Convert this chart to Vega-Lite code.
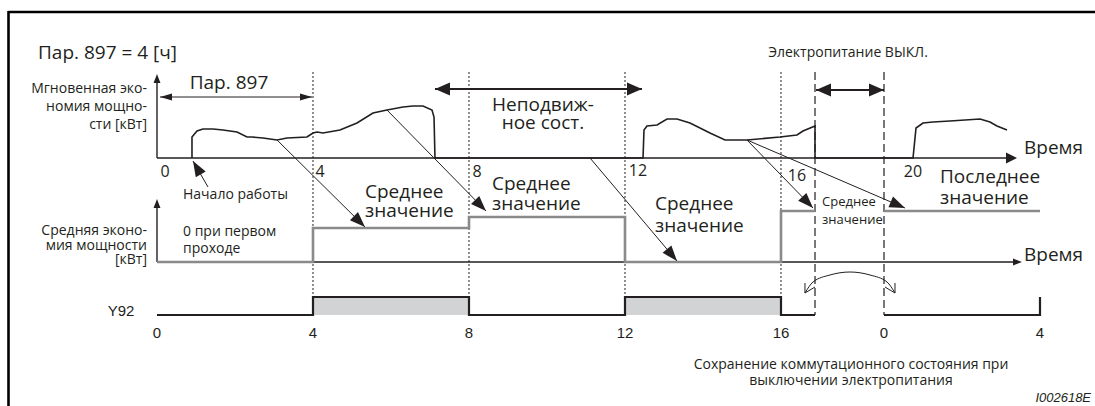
{
"$schema":"https://vega.github.io/schema/vega-lite/v6.json",
"width":1095,"height":406,"autosize":{"type":"none"},"padding":0,"background":"white",
"config":{"view":{"stroke":null}},
"datasets":{
"fills":[{"t":4,"t2":8,"v":91,"v2":109},{"t":12,"t2":16,"v":91,"v2":109}],
"segs":[
{"k":"frame","t":-3.8077,"v":394,"t2":24.06,"v2":394},
{"k":"frame","t":-3.8077,"v":395,"t2":-3.8077,"v2":0},
{"k":"axis","t":0,"v":248,"t2":21.85,"v2":248},
{"k":"axis","t":0,"v":248,"t2":0,"v2":326},
{"k":"axis","t":0,"v":144,"t2":21.97,"v2":144},
{"k":"axis","t":0,"v":144,"t2":0,"v2":201},
{"k":"thin","t":1.308,"v":219,"t2":0.923,"v2":245},
{"k":"thin","t":3.077,"v":266,"t2":5.333,"v2":179},
{"k":"thin","t":5.897,"v":296,"t2":8.436,"v2":195},
{"k":"thin","t":11.103,"v":248,"t2":13.333,"v2":145},
{"k":"thin","t":15.128,"v":266,"t2":16.821,"v2":198},
{"k":"thin","t":15.128,"v":266,"t2":19.179,"v2":198},
{"k":"thin","t":0.077,"v":309,"t2":3.974,"v2":309},
{"k":"thin","t":16.615,"v":113,"t2":16.615,"v2":123},
{"k":"thin","t":16.615,"v":113,"t2":16.872,"v2":119},
{"k":"thin","t":18.923,"v":113,"t2":18.923,"v2":123},
{"k":"thin","t":18.923,"v":113,"t2":18.667,"v2":119},
{"k":"bold","t":7.128,"v":317,"t2":12.436,"v2":317},
{"k":"bold","t":16.897,"v":316,"t2":18.641,"v2":316},
{"k":"dot","t":4,"v":334,"t2":4,"v2":109},
{"k":"dot","t":8,"v":334,"t2":8,"v2":109},
{"k":"dot","t":12,"v":334,"t2":12,"v2":109},
{"k":"dot","t":16,"v":334,"t2":16,"v2":109},
{"k":"dash","t":16.872,"v":334,"t2":16.872,"v2":91},
{"k":"dash","t":18.641,"v":334,"t2":18.641,"v2":91}
],
"lines":[
{"id":"inst","i":1,"t":0.897,"v":248},{"id":"inst","i":2,"t":0.897,"v":269},{"id":"inst","i":3,"t":1.026,"v":275},{"id":"inst","i":4,"t":1.179,"v":277},{"id":"inst","i":5,"t":1.436,"v":277},{"id":"inst","i":6,"t":1.692,"v":276},{"id":"inst","i":7,"t":2.051,"v":274},{"id":"inst","i":8,"t":2.308,"v":269},{"id":"inst","i":9,"t":2.436,"v":269},{"id":"inst","i":10,"t":2.718,"v":268},{"id":"inst","i":11,"t":3.077,"v":266},{"id":"inst","i":12,"t":3.333,"v":268},{"id":"inst","i":13,"t":3.846,"v":269},{"id":"inst","i":14,"t":4.0,"v":273},{"id":"inst","i":15,"t":4.103,"v":274},{"id":"inst","i":16,"t":4.256,"v":273},{"id":"inst","i":17,"t":4.692,"v":276},{"id":"inst","i":18,"t":5.128,"v":283},{"id":"inst","i":19,"t":5.538,"v":293},{"id":"inst","i":20,"t":5.897,"v":296},{"id":"inst","i":21,"t":6.308,"v":299},{"id":"inst","i":22,"t":6.564,"v":300},{"id":"inst","i":23,"t":6.821,"v":300},{"id":"inst","i":24,"t":7.051,"v":296},{"id":"inst","i":25,"t":7.103,"v":289},{"id":"inst","i":26,"t":7.128,"v":248},{"id":"inst","i":27,"t":12.462,"v":248},{"id":"inst","i":28,"t":12.487,"v":276},{"id":"inst","i":29,"t":12.564,"v":280},{"id":"inst","i":30,"t":12.821,"v":281},{"id":"inst","i":31,"t":13.077,"v":287},{"id":"inst","i":32,"t":13.333,"v":287},{"id":"inst","i":33,"t":13.667,"v":283},{"id":"inst","i":34,"t":14.179,"v":273},{"id":"inst","i":35,"t":14.564,"v":266},{"id":"inst","i":36,"t":15.128,"v":266},{"id":"inst","i":37,"t":15.974,"v":269},{"id":"inst","i":38,"t":16.41,"v":271},{"id":"inst","i":39,"t":16.564,"v":275},{"id":"inst","i":40,"t":16.872,"v":280},{"id":"inst","i":41,"t":16.872,"v":248},{"id":"inst","i":42,"t":19.385,"v":248},{"id":"inst","i":43,"t":19.462,"v":278},{"id":"inst","i":44,"t":19.641,"v":283},{"id":"inst","i":45,"t":19.897,"v":284},{"id":"inst","i":46,"t":20.333,"v":285},{"id":"inst","i":47,"t":21.103,"v":287},{"id":"inst","i":48,"t":21.359,"v":284},{"id":"inst","i":49,"t":21.538,"v":280},{"id":"inst","i":50,"t":21.667,"v":278},{"id":"inst","i":51,"t":21.795,"v":276},
{"id":"avg1","i":1,"t":0,"v":144},{"id":"avg1","i":2,"t":4,"v":144},{"id":"avg1","i":3,"t":4,"v":178},{"id":"avg1","i":4,"t":8,"v":178},{"id":"avg1","i":5,"t":8,"v":189},{"id":"avg1","i":6,"t":12,"v":189},{"id":"avg1","i":7,"t":12,"v":144},{"id":"avg1","i":8,"t":16,"v":144},{"id":"avg1","i":9,"t":16,"v":195},{"id":"avg1","i":10,"t":16.872,"v":195},
{"id":"avg2","i":1,"t":18.641,"v":195},{"id":"avg2","i":2,"t":22.641,"v":195},
{"id":"y1","i":1,"t":0,"v":91},{"id":"y1","i":2,"t":4,"v":91},{"id":"y1","i":3,"t":4,"v":109},{"id":"y1","i":4,"t":8,"v":109},{"id":"y1","i":5,"t":8,"v":91},{"id":"y1","i":6,"t":12,"v":91},{"id":"y1","i":7,"t":12,"v":109},{"id":"y1","i":8,"t":16,"v":109},{"id":"y1","i":9,"t":16,"v":91},{"id":"y1","i":10,"t":16.872,"v":91},
{"id":"y2","i":1,"t":18.641,"v":91},{"id":"y2","i":2,"t":22.641,"v":91},{"id":"y2","i":3,"t":22.641,"v":109},
{"id":"arc","i":1,"t":16.615,"v":113},{"id":"arc","i":2,"t":16.821,"v":124},{"id":"arc","i":3,"t":17.256,"v":131},{"id":"arc","i":4,"t":17.769,"v":134},{"id":"arc","i":5,"t":18.282,"v":131},{"id":"arc","i":6,"t":18.718,"v":124},{"id":"arc","i":7,"t":18.923,"v":113}
],
"heads":[
{"k":"ax","t":0,"v":332,"a":0},{"k":"ax","t":0,"v":207,"a":0},{"k":"ax","t":22.18,"v":144,"a":90},
{"k":"axb","t":22.051,"v":248,"a":90},
{"k":"small","t":0.077,"v":309,"a":270},{"k":"small","t":3.974,"v":309,"a":90},
{"k":"bold","t":7.128,"v":317,"a":270},{"k":"bold","t":12.436,"v":317,"a":90},{"k":"bold","t":16.897,"v":316,"a":270},{"k":"bold","t":18.641,"v":316,"a":90}
],
"dh":[
{"t":0.923,"v":245,"a":330},{"t":5.333,"v":179,"a":134.7},{"t":8.436,"v":195,"a":135.6},{"t":13.333,"v":145,"a":139.8},{"t":16.821,"v":198,"a":135.9},{"t":19.179,"v":198,"a":113.3}
],
"txt":[
{"g":"ttl","t":-3.0513,"v":353,"s":"Пар. 897 = 4 [ч]"},
{"g":"p897","t":1.846,"v":323,"s":"Пар. 897"},
{"g":"lbl","t":-0.2564,"v":317,"s":"Мгновенная эко-"},
{"g":"lbl","t":-0.2564,"v":299,"s":"номия мощно-"},
{"g":"lbl","t":-0.2564,"v":281,"s":"сти [кВт]"},
{"g":"lbl","t":-0.2564,"v":175,"s":"Средняя эконо-"},
{"g":"lbl","t":-0.2564,"v":160.5,"s":"мия мощности"},
{"g":"lbl","t":-0.2564,"v":146,"s":"[кВт]"},
{"g":"bigc","t":9.897,"v":301,"s":"Неподвиж-"},
{"g":"bigc","t":9.897,"v":283,"s":"ное сост."},
{"g":"bigl","t":5.333,"v":214,"s":"Среднее"},
{"g":"bigl","t":5.333,"v":195,"s":"значение"},
{"g":"bigl","t":8.59,"v":222,"s":"Среднее"},
{"g":"bigl","t":8.59,"v":202,"s":"значение"},
{"g":"bigl","t":12.769,"v":202,"s":"Среднее"},
{"g":"bigl","t":12.769,"v":180,"s":"значение"},
{"g":"bigl","t":20.077,"v":229,"s":"Последнее"},
{"g":"bigl","t":20.077,"v":208,"s":"значение"},
{"g":"bigl","t":22.231,"v":258,"s":"Время"},
{"g":"bigl","t":22.231,"v":151,"s":"Время"},
{"g":"midl","t":0.667,"v":211,"s":"Начало работы"},
{"g":"midl","t":0.667,"v":174,"s":"0 при первом"},
{"g":"midl","t":0.667,"v":157,"s":"проходе"},
{"g":"midc","t":17.718,"v":353,"s":"Электропитание ВЫКЛ."},
{"g":"midc","t":17.795,"v":41,"s":"Сохранение коммутационного состояния при"},
{"g":"midc","t":17.795,"v":25,"s":"выключении электропитания"},
{"g":"sml","t":17.051,"v":204,"s":"Среднее"},
{"g":"sml","t":17.051,"v":186,"s":"значение"},
{"g":"tickt","t":0.205,"v":234,"s":"0"},
{"g":"tickt","t":4.179,"v":234,"s":"4"},
{"g":"tickt","t":8.205,"v":234,"s":"8"},
{"g":"tickt","t":12.333,"v":235,"s":"12"},
{"g":"tickt","t":16.41,"v":230,"s":"16"},
{"g":"tickt","t":19.385,"v":234,"s":"20"},
{"g":"tickb","t":0,"v":73,"s":"0"},
{"g":"tickb","t":4,"v":73,"s":"4"},
{"g":"tickb","t":8,"v":73,"s":"8"},
{"g":"tickb","t":12,"v":73,"s":"12"},
{"g":"tickb","t":16,"v":73,"s":"16"},
{"g":"tickb","t":18.641,"v":73,"s":"0"},
{"g":"tickb","t":22.641,"v":73,"s":"4"},
{"g":"tickb","t":-0.923,"v":95,"s":"Y92"},
{"g":"id","t":23.95,"v":8,"s":"I002618E"}
]
},
"encoding":{
"x":{"field":"t","type":"quantitative","scale":{"domain":[-4.0256,24.0513],"nice":false,"zero":false},"axis":null},
"y":{"field":"v","type":"quantitative","scale":{"domain":[0,406],"nice":false,"zero":false},"axis":null}
},
"layer":[
{"data":{"name":"fills"},"mark":{"type":"rect","color":"#d1d3d4"},"encoding":{"x2":{"field":"t2"},"y2":{"field":"v2"}}},
{"data":{"name":"segs"},"transform":[{"filter":"datum.k==='dot'"}],"mark":{"type":"rule","color":"#231f20","strokeWidth":1,"strokeDash":[2,2]},"encoding":{"x2":{"field":"t2"},"y2":{"field":"v2"}}},
{"data":{"name":"segs"},"transform":[{"filter":"datum.k==='dash'"}],"mark":{"type":"rule","color":"#231f20","strokeWidth":1.2,"strokeDash":[8,4]},"encoding":{"x2":{"field":"t2"},"y2":{"field":"v2"}}},
{"data":{"name":"segs"},"transform":[{"filter":"datum.k==='frame'"}],"mark":{"type":"rule","color":"#000000","strokeWidth":2.6},"encoding":{"x2":{"field":"t2"},"y2":{"field":"v2"}}},
{"data":{"name":"segs"},"transform":[{"filter":"datum.k==='axis'"}],"mark":{"type":"rule","color":"#231f20","strokeWidth":1.4},"encoding":{"x2":{"field":"t2"},"y2":{"field":"v2"}}},
{"data":{"name":"segs"},"transform":[{"filter":"datum.k==='thin'"}],"mark":{"type":"rule","color":"#231f20","strokeWidth":1},"encoding":{"x2":{"field":"t2"},"y2":{"field":"v2"}}},
{"data":{"name":"segs"},"transform":[{"filter":"datum.k==='bold'"}],"mark":{"type":"rule","color":"#231f20","strokeWidth":2.2},"encoding":{"x2":{"field":"t2"},"y2":{"field":"v2"}}},
{"data":{"name":"lines"},"transform":[{"filter":"indexof(datum.id,'avg')===0"}],"mark":{"type":"line","color":"#8a8a8a","strokeWidth":2.6,"strokeJoin":"miter"},"encoding":{"detail":{"field":"id"},"order":{"field":"i","type":"quantitative"}}},
{"data":{"name":"lines"},"transform":[{"filter":"datum.id==='inst'"}],"mark":{"type":"line","color":"#231f20","strokeWidth":1.6,"interpolate":"linear"},"encoding":{"detail":{"field":"id"},"order":{"field":"i","type":"quantitative"}}},
{"data":{"name":"lines"},"transform":[{"filter":"indexof(datum.id,'y')===0"}],"mark":{"type":"line","color":"#231f20","strokeWidth":2.2,"strokeJoin":"miter"},"encoding":{"detail":{"field":"id"},"order":{"field":"i","type":"quantitative"}}},
{"data":{"name":"lines"},"transform":[{"filter":"datum.id==='arc'"}],"mark":{"type":"line","color":"#231f20","strokeWidth":1,"interpolate":"monotone"},"encoding":{"detail":{"field":"id"},"order":{"field":"i","type":"quantitative"}}},
{"data":{"name":"heads"},"transform":[{"filter":"datum.k==='ax'"}],"mark":{"type":"point","filled":true,"opacity":1,"color":"#231f20","strokeWidth":0,"shape":"M0,0L-0.38,1L0.38,1Z","size":324},"encoding":{"angle":{"field":"a","type":"quantitative","scale":null}}},
{"data":{"name":"heads"},"transform":[{"filter":"datum.k==='axb'"}],"mark":{"type":"point","filled":true,"opacity":1,"color":"#231f20","strokeWidth":0,"shape":"M0,0L-0.5,1L0.5,1Z","size":484},"encoding":{"angle":{"field":"a","type":"quantitative","scale":null}}},
{"data":{"name":"heads"},"transform":[{"filter":"datum.k==='small'"}],"mark":{"type":"point","filled":true,"opacity":1,"color":"#231f20","strokeWidth":0,"shape":"M0,0L-0.3,1L0.3,1Z","size":576},"encoding":{"angle":{"field":"a","type":"quantitative","scale":null}}},
{"data":{"name":"heads"},"transform":[{"filter":"datum.k==='bold'"}],"mark":{"type":"point","filled":true,"opacity":1,"color":"#231f20","strokeWidth":0,"shape":"M0,0L-0.43,1L0.43,1Z","size":900},"encoding":{"angle":{"field":"a","type":"quantitative","scale":null}}},
{"data":{"name":"dh"},"mark":{"type":"point","filled":true,"opacity":1,"color":"#231f20","strokeWidth":0,"shape":"M0,0L-0.37,1L0.37,1Z","size":960},"encoding":{"angle":{"field":"a","type":"quantitative","scale":null}}},
{"data":{"name":"txt"},"transform":[{"filter":"datum.g==='ttl'"}],"mark":{"type":"text","font":"Open Sans","fontSize":19,"align":"left","baseline":"middle","color":"#231f20"},"encoding":{"text":{"field":"s"}}},
{"data":{"name":"txt"},"transform":[{"filter":"datum.g==='p897'"}],"mark":{"type":"text","font":"Open Sans","fontSize":19,"align":"center","baseline":"middle","color":"#231f20"},"encoding":{"text":{"field":"s"}}},
{"data":{"name":"txt"},"transform":[{"filter":"datum.g==='lbl'"}],"mark":{"type":"text","font":"Open Sans","fontSize":14,"align":"right","baseline":"middle","color":"#231f20"},"encoding":{"text":{"field":"s"}}},
{"data":{"name":"txt"},"transform":[{"filter":"datum.g==='bigc'"}],"mark":{"type":"text","font":"Open Sans","fontSize":19,"align":"center","baseline":"middle","color":"#231f20"},"encoding":{"text":{"field":"s"}}},
{"data":{"name":"txt"},"transform":[{"filter":"datum.g==='bigl'"}],"mark":{"type":"text","font":"Open Sans","fontSize":19,"align":"left","baseline":"middle","color":"#231f20"},"encoding":{"text":{"field":"s"}}},
{"data":{"name":"txt"},"transform":[{"filter":"datum.g==='midl'"}],"mark":{"type":"text","font":"Open Sans","fontSize":14,"align":"left","baseline":"middle","color":"#231f20"},"encoding":{"text":{"field":"s"}}},
{"data":{"name":"txt"},"transform":[{"filter":"datum.g==='midc'"}],"mark":{"type":"text","font":"Open Sans","fontSize":14,"align":"center","baseline":"middle","color":"#231f20"},"encoding":{"text":{"field":"s"}}},
{"data":{"name":"txt"},"transform":[{"filter":"datum.g==='sml'"}],"mark":{"type":"text","font":"Open Sans","fontSize":13,"align":"left","baseline":"middle","color":"#231f20"},"encoding":{"text":{"field":"s"}}},
{"data":{"name":"txt"},"transform":[{"filter":"datum.g==='tickt'"}],"mark":{"type":"text","font":"Open Sans","fontSize":16,"align":"center","baseline":"middle","color":"#231f20"},"encoding":{"text":{"field":"s"}}},
{"data":{"name":"txt"},"transform":[{"filter":"datum.g==='tickb'"}],"mark":{"type":"text","font":"Liberation Sans","fontSize":15,"align":"center","baseline":"middle","color":"#231f20"},"encoding":{"text":{"field":"s"}}},
{"data":{"name":"txt"},"transform":[{"filter":"datum.g==='id'"}],"mark":{"type":"text","font":"Liberation Sans","fontSize":13,"fontStyle":"italic","align":"right","baseline":"middle","color":"#231f20"},"encoding":{"text":{"field":"s"}}}
]
}
